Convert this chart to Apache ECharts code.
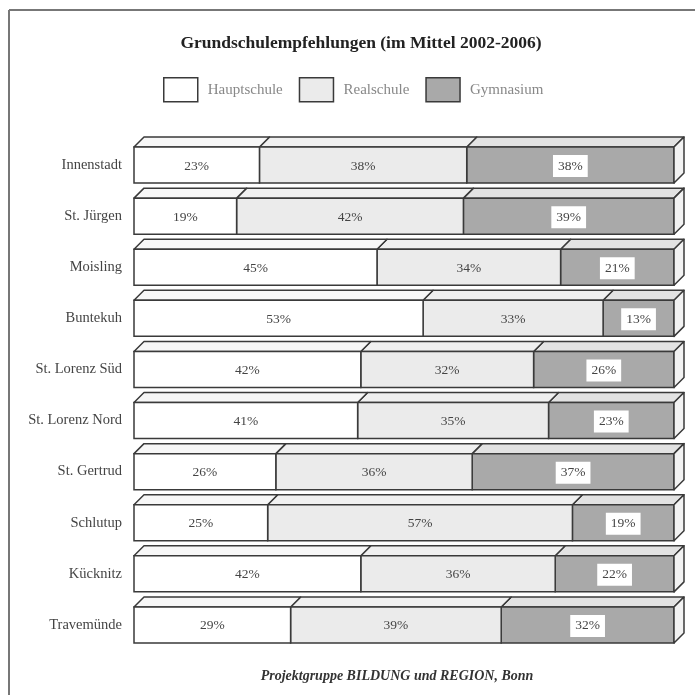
<!DOCTYPE html>
<html>
<head>
<meta charset="utf-8">
<script src="https://cdn.jsdelivr.net/npm/echarts@6/dist/echarts.min.js"></script>
<style>html,body{margin:0;padding:0;background:#fff;}#chart{width:695px;height:695px;}</style>
</head>
<body>
<div id="chart"></div>
<script>
const categories = ['Innenstadt','St. Jürgen','Moisling','Buntekuh','St. Lorenz Süd','St. Lorenz Nord','St. Gertrud','Schlutup','Kücknitz','Travemünde'];
const hauptschule = [23,19,45,53,42,41,26,25,42,29];
const realschule  = [38,42,34,33,32,35,36,57,36,39];
const gymnasium   = [38,39,21,13,26,23,37,19,22,32];
const seriesNames = ['Hauptschule','Realschule','Gymnasium'];

const FONT = '"Liberation Serif", "DejaVu Serif", serif';
const LINE = '#3a3a3a';
const fills = ['#ffffff','#ebebeb','#a9a9a9'];
const topFills = ['#f7f7f7','#f0f0f0','#e2e2e2'];
const allVals = [hauptschule, realschule, gymnasium];

function buildData(k){
  return categories.map((c,i)=>{
    const tot = hauptschule[i]+realschule[i]+gymnasium[i];
    let cum = 0;
    for(let j=0;j<k;j++) cum += allVals[j][i];
    const s = cum/tot*100, e = (cum+allVals[k][i])/tot*100;
    return [s, e, i, allVals[k][i]];
  });
}

function makeRender(k){
  const isLast = k === 2;
  return function(params, api){
    const s = api.value(0), e = api.value(1), cat = api.value(2), v = api.value(3);
    const p0 = api.coord([s, cat]), p1 = api.coord([e, cat]);
    const band = api.size([0,1])[1];
    const h = band*0.705, d = 10;
    const x0 = p0[0], x1 = p1[0];
    const yT = p0[1]-h/2, yB = p0[1]+h/2;
    const children = [
      {type:'polygon', shape:{points:[[x0,yT],[x1,yT],[x1+d,yT-d],[x0+d,yT-d]]},
       style:{fill:topFills[k], stroke:LINE, lineWidth:1.5, lineJoin:'round'}},
      {type:'rect', shape:{x:x0,y:yT,width:x1-x0,height:h},
       style:{fill:fills[k], stroke:LINE, lineWidth:1.5}}
    ];
    if(isLast){
      children.push({type:'polygon', shape:{points:[[x1,yT],[x1+d,yT-d],[x1+d,yB-d],[x1,yB]]},
        style:{fill:'#f2f2f2', stroke:LINE, lineWidth:1.5, lineJoin:'round'}});
    }
    children.push({type:'text', style:{
      text: v + '%', x:(x0+x1)/2, y:p0[1]+1, align:'center', verticalAlign:'middle',
      font:'13.5px ' + FONT, fill:'#444',
      backgroundColor: k===2 ? '#ffffff' : null, padding: k===2 ? [4,5,4,5] : 0
    }});
    return {type:'group', children};
  };
}

const chart = echarts.init(document.getElementById('chart'));
chart.setOption({
  animation:false,
  backgroundColor:'#fff',
  title:[
    {text:'Grundschulempfehlungen (im Mittel 2002-2006)', left:356, textAlign:'center', top:29,
     textStyle:{fontFamily:FONT, fontWeight:'bold', fontSize:17.5, color:'#222'}},
    {text:'Projektgruppe BILDUNG und REGION, Bonn', left:392, textAlign:'center', top:664,
     textStyle:{fontFamily:FONT, fontWeight:'bold', fontStyle:'italic', fontSize:14, color:'#333'}}
  ],
  legend:{
    data: seriesNames.map((n,k)=>({name:n, icon:'rect', itemStyle:{color:fills[k], borderColor:LINE, borderWidth:1.5}})),
    left:163, top:77, padding:0, itemWidth:34, itemHeight:24, itemGap:16,
    textStyle:{fontFamily:FONT, fontSize:15, color:'#888', padding:[0,0,0,5]},
    selectedMode:false
  },
  grid:{left:134, right:21, top:139.5, bottom:44.5, containLabel:false},
  xAxis:{type:'value', min:0, max:100, show:false},
  yAxis:{type:'category', data:categories, inverse:true,
    axisLine:{show:false}, axisTick:{show:false},
    axisLabel:{fontFamily:FONT, fontSize:14.5, color:'#444', margin:12}},
  graphic:[
    {type:'line', shape:{x1:9, y1:10, x2:695, y2:10}, style:{stroke:'#777', lineWidth:2}},
    {type:'line', shape:{x1:9, y1:10, x2:9, y2:695}, style:{stroke:'#777', lineWidth:2}}
  ],
  series: seriesNames.map((n,k)=>({
    name:n, type:'custom', renderItem: makeRender(k),
    itemStyle:{color:fills[k], borderColor:LINE, borderWidth:1.5},
    encode:{x:[0,1], y:2}, data: buildData(k), z: 10 - k
  }))
});
</script>
</body>
</html>
